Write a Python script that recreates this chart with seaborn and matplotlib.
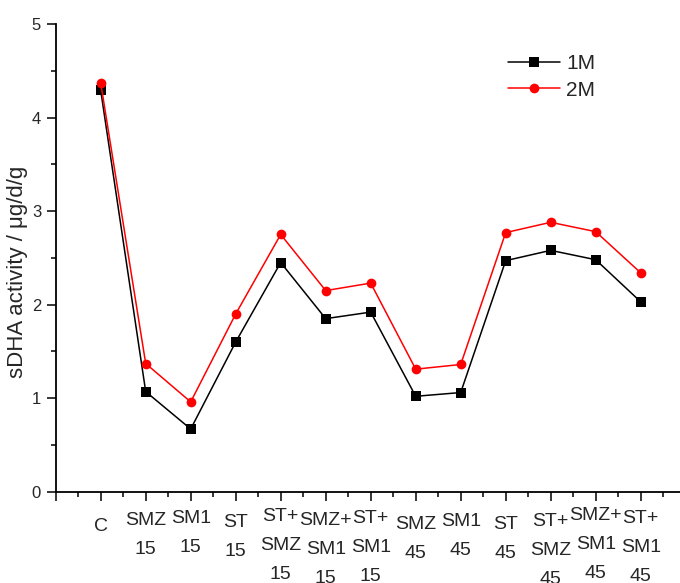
import matplotlib
matplotlib.use("Agg")
import matplotlib.pyplot as plt
import matplotlib.transforms as mtransforms
import seaborn as sns
import pandas as pd
from matplotlib.ticker import MultipleLocator

categories = ["C", "SMZ\n15", "SM1\n15", "ST\n15", "ST+\nSMZ\n15", "SMZ+\nSM1\n15",
              "ST+\nSM1\n15", "SMZ\n45", "SM1\n45", "ST\n45", "ST+\nSMZ\n45",
              "SMZ+\nSM1\n45", "ST+\nSM1\n45"]
values_1m = [4.29, 1.07, 0.67, 1.60, 2.45, 1.85, 1.92, 1.02, 1.06, 2.47, 2.58, 2.48, 2.03]
values_2m = [4.37, 1.37, 0.96, 1.90, 2.75, 2.15, 2.23, 1.31, 1.36, 2.77, 2.88, 2.78, 2.34]
series_names = ["1M", "2M"]
# first-line vertical offsets (pixels below the axis) for the staggered tick labels
label_offsets = [37, 31, 29, 33, 27, 31, 29, 35, 32, 35, 32, 26, 29]

sns.set_theme(style="ticks")
plt.rcParams["font.family"] = ["Liberation Sans", "DejaVu Sans"]

positions = list(range(1, len(categories) + 1))
df = pd.DataFrame({
    "x": positions * 2,
    "value": values_1m + values_2m,
    "series": [series_names[0]] * len(values_1m) + [series_names[1]] * len(values_2m),
})

fig = plt.figure(figsize=(6.8, 5.83), dpi=100)
ax = fig.add_axes([55.7 / 680, 1 - 491.7 / 583, 1 - 55.7 / 680, (491.7 - 24) / 583])

sns.lineplot(data=df, x="x", y="value", hue="series", style="series",
             markers={"1M": "s", "2M": "o"}, dashes=False,
             palette={"1M": "black", "2M": "red"},
             markersize=7, markeredgewidth=0, linewidth=1.1, ax=ax)

ax.set_xlim(0, (680 - 55.7) / 45.0)
ax.set_ylim(0, 5)
ax.xaxis.set_major_locator(MultipleLocator(1))
ax.xaxis.set_minor_locator(MultipleLocator(0.5))
ax.yaxis.set_major_locator(MultipleLocator(1))
ax.yaxis.set_minor_locator(MultipleLocator(0.5))
ax.tick_params(axis="both", which="major", length=6.5, width=1.1, direction="out", color="black")
ax.tick_params(axis="both", which="minor", length=3.8, width=1.1, direction="out", color="black")
ax.tick_params(axis="y", labelsize=12, pad=4)
ax.set_xticklabels([])
ax.set_xlabel("")
for s in ["top", "right"]:
    ax.spines[s].set_visible(False)
for s in ["left", "bottom"]:
    ax.spines[s].set_linewidth(1.3)
    ax.spines[s].set_color("black")

trans = mtransforms.blended_transform_factory(ax.transData, ax.transAxes)
for pos, lab, off in zip(positions, categories, label_offsets):
    ax.annotate(lab, xy=(pos, 0), xycoords=trans, xytext=(0, -(off - 10.5) * 0.72),
                textcoords="offset points", ha="center", va="top",
                fontsize=14, linespacing=1.9, annotation_clip=False)

ax.set_ylabel("sDHA activity / μg/d/g", fontsize=16)
ax.yaxis.set_label_coords(-0.045, 0.47)

leg = ax.legend(loc="upper left", bbox_to_anchor=(0.724, 0.935), frameon=False,
                fontsize=15, handlelength=2.5, handletextpad=0.3,
                borderpad=0, borderaxespad=0, labelspacing=0.35, title=None)

fig.savefig("out.png", dpi=100)
